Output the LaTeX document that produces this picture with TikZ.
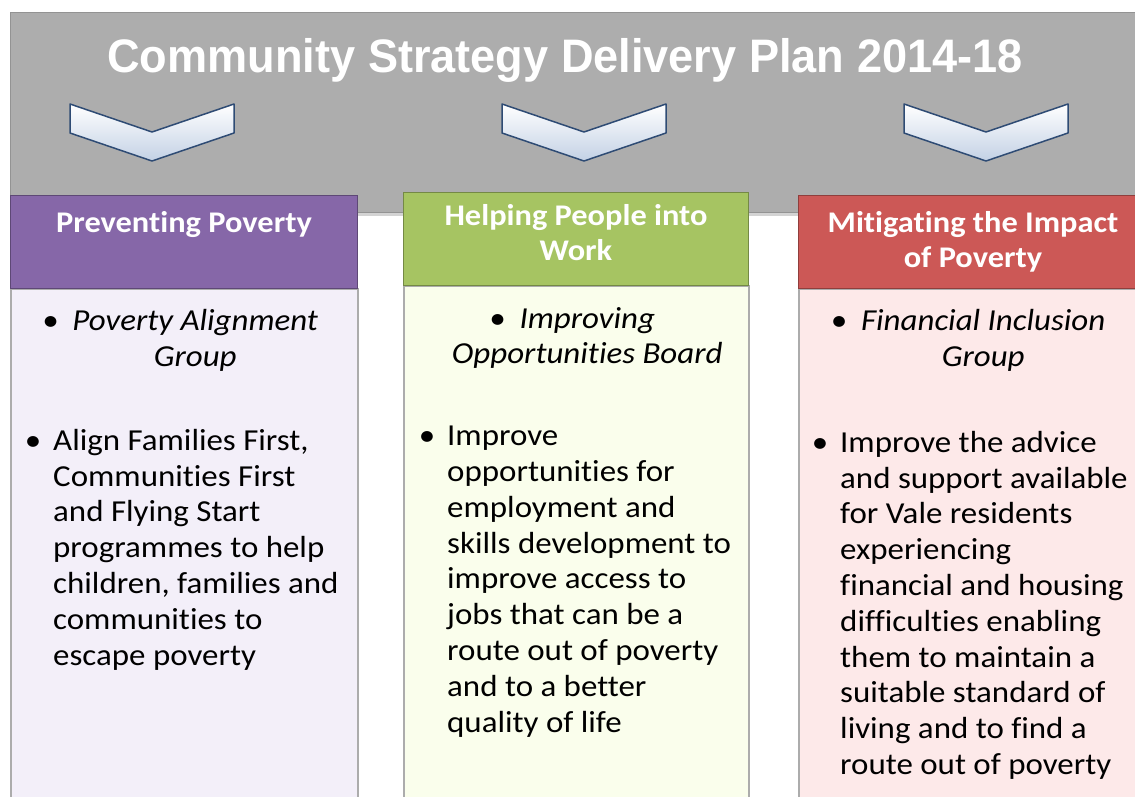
\documentclass[tikz,border=0pt]{standalone}
\usepackage{fontspec}
\setmainfont{Carlito}[FakeStretch=1.08, Ligatures=NoCommon]
\newfontfamily\titlefont{Liberation Sans}
\usetikzlibrary{positioning, shadows}

\definecolor{bannergray}{HTML}{ADADAD}
\definecolor{prevhead}{HTML}{8667A8}
\definecolor{prevfill}{HTML}{F3EFF9}
\definecolor{workhead}{HTML}{A6C462}
\definecolor{workfill}{HTML}{FAFEEC}
\definecolor{mitihead}{HTML}{CC5856}
\definecolor{mitifill}{HTML}{FDE9E9}
\definecolor{chevline}{HTML}{2E4B74}
\definecolor{chevfill}{HTML}{C3D1E5}

% bullet that hangs left of the first line
\newcommand{\hangbullet}[1]{\llap{\textbullet\hspace{#1}}}

\begin{document}
\begin{tikzpicture}[x=1pt, y=-1pt,
  banner/.style={anchor=north west, inner sep=0pt, minimum width=1135pt, minimum height=200pt,
                 fill=bannergray, draw=gray!85, line width=1pt,
                 drop shadow={shadow xshift=1pt, shadow yshift=-3pt, opacity=.35}},
  head/.style={anchor=north west, inner sep=0pt, minimum width=347pt, minimum height=93pt,
               fill=#1, draw=#1!70!black, line width=1pt},
  box/.style={anchor=north west, inner sep=0pt, minimum width=347pt, minimum height=512pt,
              fill=#1, draw=gray!65, line width=1.5pt},
  headtext/.style={inner sep=0pt, align=center, text=white,
                   font=\bfseries\fontsize{30}{35.6}\selectfont},
  group/.style={inner sep=0pt, align=center, font=\itshape\fontsize{30.5}{35.8}\selectfont},
  aim/.style={inner sep=0pt, align=left, font=\fontsize{30.5}{35.8}\selectfont},
  chevron/.style={draw=chevline, line width=1.5pt, line join=round,
                  top color=white, bottom color=chevfill}]

\useasboundingbox (0,0) rectangle (1135,796);

% grey banner with the plan title
\node [banner] (plan) at (10,12) {};
\node [anchor=base, text=white, font=\titlefont\bfseries\fontsize{47}{50}\selectfont]
      (title) at (565,72) {\scalebox{0.96}[1]{Community Strategy Delivery Plan 2014-18}};

% chevrons under the title
\foreach \cx in {152, 584, 986}
  \draw [chevron] (\cx-82,104) -- (\cx,132) -- (\cx+82,104) -- (\cx+82,133)
                  -- (\cx,161) -- (\cx-82,133) -- cycle;

% three columns: header, then body
\node [box=prevfill, minimum width=347pt] (prevbox) at (10,288)  {};
\node [box=workfill, minimum width=345pt] (workbox) at (403,285) {};
\node [box=mitifill, minimum width=345pt] (mitibox) at (798,288) {};

\node [head=prevhead, minimum width=347pt] (prevhd) at (10,195)  {};
\node [head=workhead, minimum width=345pt] (workhd) at (403,192) {};
\node [head=mitihead, minimum width=345pt] (mitihd) at (798,195) {};

\node [headtext, below=16pt of prevhd.north] (prevtitle) {Preventing Poverty};
\node [headtext, below=12pt of workhd.north] (worktitle) {Helping People into\\Work};
\node [headtext, below=16pt of mitihd.north, xshift=2pt] (mititle) {Mitigating the Impact\\of Poverty};

\node [group, below=21pt of prevbox.north, xshift=11pt] (prevgroup)
      {\hangbullet{14pt}Poverty Alignment\\Group};
\node [group, below=22pt of workbox.north, xshift=11pt] (workgroup)
      {\hangbullet{14pt}Improving\\Opportunities Board};
\node [group, below=21pt of mitibox.north, xshift=12pt] (mitigroup)
      {\hangbullet{14pt}Financial Inclusion\\Group};

\node [aim, below right=141pt and 43pt of prevbox.north west] (prevaim)
      {\hangbullet{12pt}Align Families First,\\Communities First\\and Flying Start\\programmes to help\\children, families and\\communities to\\escape poverty};
\node [aim, below right=141pt and 44pt of workbox.north west] (workaim)
      {\hangbullet{12pt}Improve\\opportunities for\\employment and\\skills development to\\improve access to\\jobs that can be a\\route out of poverty\\and to a better\\quality of life};
\node [aim, below right=143pt and 42pt of mitibox.north west] (mitiaim)
      {\hangbullet{12pt}Improve the advice\\and support available\\for Vale residents\\experiencing\\financial and housing\\difficulties enabling\\them to maintain a\\suitable standard of\\living and to find a\\route out of poverty};

\end{tikzpicture}
\end{document}
